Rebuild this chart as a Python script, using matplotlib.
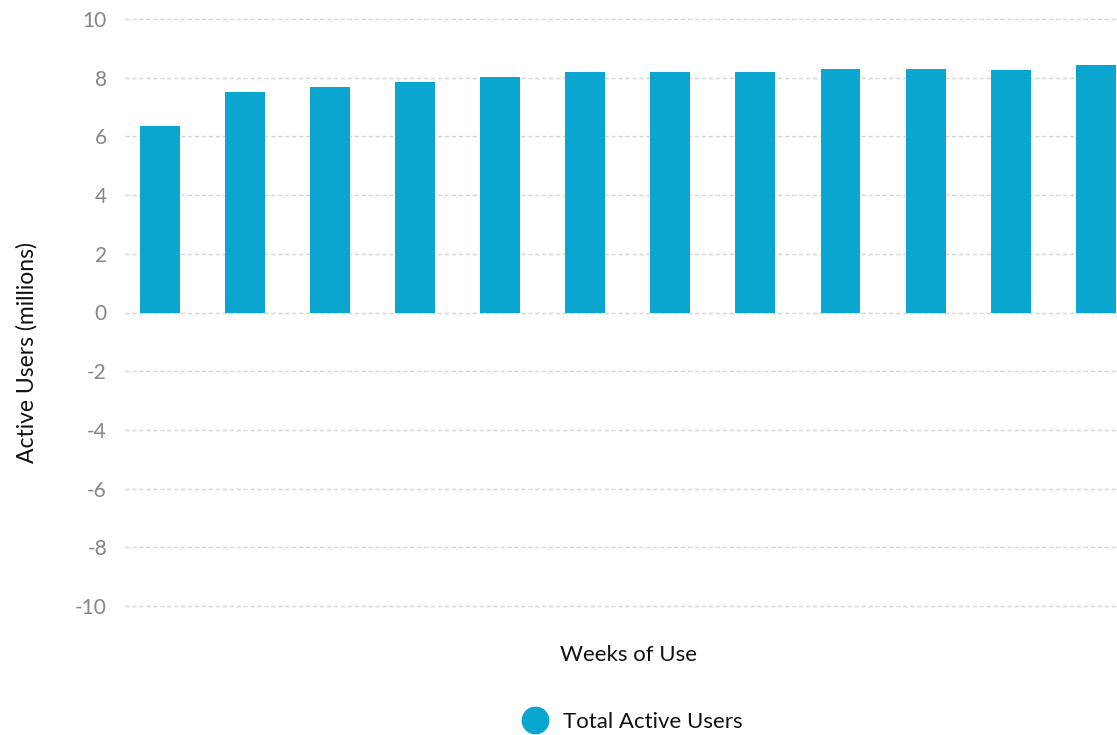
import matplotlib.pyplot as plt
from matplotlib.lines import Line2D

# weekly totals, millions of active users
weeks = list(range(1, 13))
active_users = [6.34, 7.50, 7.70, 7.84, 8.04, 8.21, 8.21, 8.21, 8.31, 8.31, 8.25, 8.42]
yticks = [-10, -8, -6, -4, -2, 0, 2, 4, 6, 8, 10]

bar_color = '#0BA6CF'
plt.rcParams['font.family'] = ['Lato', 'DejaVu Sans']

fig = plt.figure(figsize=(11.17, 7.35), dpi=100)
ax = fig.add_axes([125 / 1117, 1 - 606 / 735, 1 - 125 / 1117, (606 - 19) / 735])

pos = [i for i in range(len(weeks))]
ax.bar(pos, active_users, width=0.47, color=bar_color, zorder=3)

ax.set_xlim(-0.41, 11.25)
ax.set_ylim(-10, 10)
ax.set_yticks(yticks)
ax.set_yticklabels([str(t) for t in yticks], color='#858585', fontsize=15)
ax.set_xticks([])
ax.tick_params(axis='y', length=0, pad=13)
for s in ax.spines.values():
    s.set_visible(False)
ax.grid(axis='y', color='#d4d4d4', linestyle=(0, (3, 2)), linewidth=1, zorder=0)
for gl in ax.get_ygridlines():
    gl.set_clip_on(False)

fig.text(27 / 1117, 1 - 352 / 735, 'Active Users (millions)', rotation=90,
         ha='center', va='center', fontsize=16.5, color='#111111')
fig.text(629 / 1117, 1 - 655 / 735, 'Weeks of Use', ha='center', va='center',
         fontsize=16, color='#111111')

handle = Line2D([], [], marker='o', linestyle='none', markersize=19,
                markerfacecolor=bar_color, markeredgecolor=bar_color)
fig.legend([handle], ['Total Active Users'], loc='center',
           bbox_to_anchor=(628 / 1117, 1 - 722 / 735), frameon=False,
           fontsize=16, handletextpad=0.25, labelcolor='#111111')

fig.savefig('out.png', dpi=100)
